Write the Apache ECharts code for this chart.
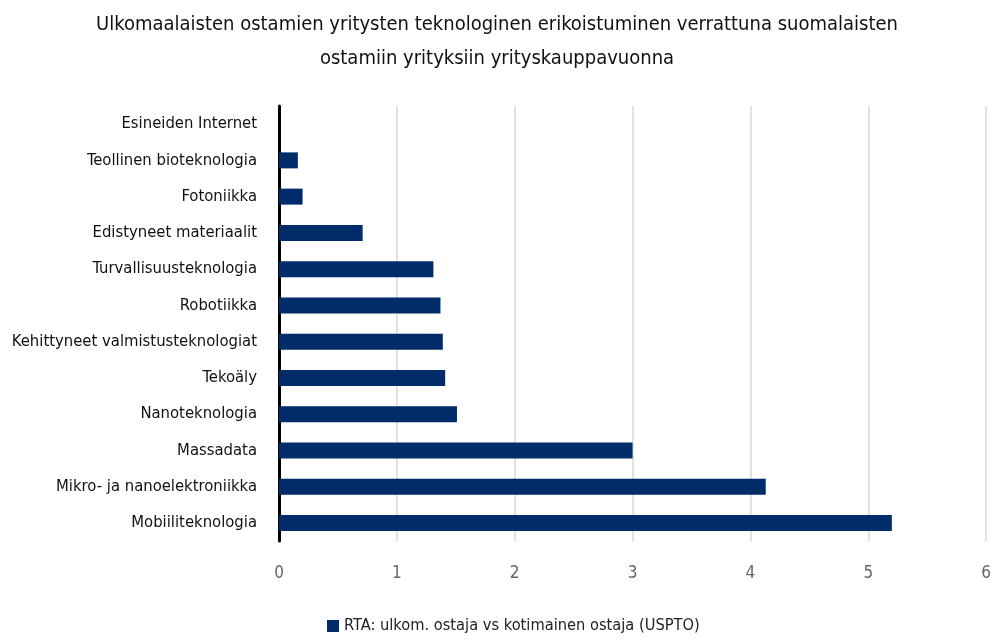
<!DOCTYPE html>
<html>
<head>
<meta charset="utf-8">
<script src="https://cdn.jsdelivr.net/npm/echarts@6/dist/echarts.min.js"></script>
<style>
  html, body { margin: 0; padding: 0; background: #fff; }
  #chart { width: 994px; height: 641px; }
</style>
</head>
<body>
<div id="chart"></div>
<script>
// tekniikka-alueet, ylhäältä alas
const categories = [
  'Esineiden Internet',
  'Teollinen bioteknologia',
  'Fotoniikka',
  'Edistyneet materiaalit',
  'Turvallisuusteknologia',
  'Robotiikka',
  'Kehittyneet valmistusteknologiat',
  'Tekoäly',
  'Nanoteknologia',
  'Massadata',
  'Mikro- ja nanoelektroniikka',
  'Mobiiliteknologia'
]
const rtaValues = [0, 0.16, 0.20, 0.71, 1.31, 1.37, 1.39, 1.41, 1.51, 3.0, 4.13, 5.20]
const seriesName = 'RTA: ulkom. ostaja vs kotimainen ostaja (USPTO)'
const xTicks = [0, 1, 2, 3, 4, 5, 6]

const font = '"Liberation Sans Narrow", "DejaVu Sans Condensed", "Roboto Condensed", "Liberation Sans", sans-serif'

const my_echart = echarts.init(document.getElementById('chart'), null, {renderer: 'canvas'})

my_echart.setOption({
  animation: false,
  textStyle: { fontFamily: font },
  title: {
    text: 'Ulkomaalaisten ostamien yritysten teknologinen erikoistuminen verrattuna suomalaisten\nostamiin yrityksiin yrityskauppavuonna',
    left: 'center',
    top: 3,
    textStyle: {
      fontFamily: font,
      fontSize: 20,
      fontWeight: 'normal',
      color: '#111',
      lineHeight: 34
    }
  },
  legend: {
    bottom: 2,
    left: 322,
    itemWidth: 12,
    itemHeight: 12,
    itemGap: 5,
    icon: 'rect',
    textStyle: { fontFamily: font, fontSize: 16.3, color: '#222' },
    data: [seriesName]
  },
  grid: {
    left: 279,
    right: 6,
    top: 106,
    height: 435,
    containLabel: false
  },
  xAxis: {
    type: 'value',
    min: xTicks[0],
    max: xTicks[xTicks.length - 1],
    interval: 1,
    axisLine: { show: false },
    axisTick: { show: false },
    axisLabel: {
      margin: 24,
      fontFamily: font,
      fontSize: 17,
      color: '#666'
    },
    splitLine: { lineStyle: { color: '#d9d9d9', width: 1.5 } }
  },
  yAxis: {
    type: 'category',
    inverse: true,
    data: categories,
    axisLine: { lineStyle: { color: '#000', width: 3 } },
    axisTick: { show: false },
    axisLabel: {
      interval: 0,
      margin: 22,
      fontFamily: font,
      fontSize: 16.5,
      color: '#111'
    }
  },
  series: [
    {
      name: seriesName,
      type: 'bar',
      data: rtaValues,
      barWidth: 16,
      itemStyle: { color: '#002d69' }
    }
  ]
})
</script>
</body>
</html>
